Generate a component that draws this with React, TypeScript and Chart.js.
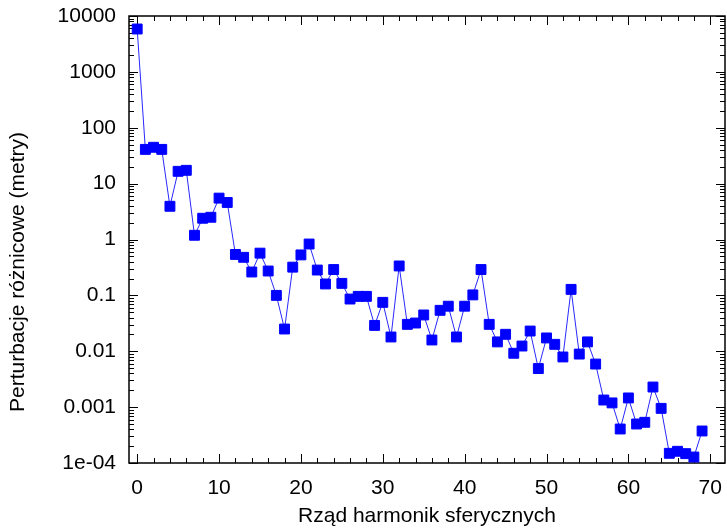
import { useEffect, useRef } from 'react';
import { Chart, registerables } from 'chart.js';

Chart.register(...registerables);

const harmonicOrder: number[] = Array.from({ length: 70 }, (_, i) => i);

const perturbation: number[] = [
  5850, 41, 44.7, 41, 3.93, 16.6, 17.3, 1.19, 2.4, 2.5,
  5.5, 4.6, 0.54, 0.48, 0.262, 0.57, 0.273, 0.1, 0.025, 0.32,
  0.53, 0.83, 0.284, 0.16, 0.29, 0.164, 0.086, 0.096, 0.096, 0.029,
  0.075, 0.018, 0.336, 0.0303, 0.032, 0.0446, 0.0159, 0.054, 0.064, 0.018,
  0.064, 0.102, 0.29, 0.0303, 0.0147, 0.0201, 0.0092, 0.0124, 0.023, 0.0049,
  0.0173, 0.0133, 0.0079, 0.128, 0.0089, 0.0147, 0.0059, 0.00134, 0.00119, 0.000406,
  0.00146, 0.000499, 0.000535, 0.00229, 0.00095, 0.000149, 0.000162, 0.000147, 0.000128, 0.000374,
];

const yTickValues: number[] = [1e4, 1e3, 100, 10, 1, 0.1, 0.01, 0.001, 1e-4];
const yTickLabels: string[] = ['10000', '1000', '100', '10', '1', '0.1', '0.01', '0.001', '1e-04'];
const xTickValues: number[] = [0, 10, 20, 30, 40, 50, 60, 70];
const xMinorStep = 2;
const xRange: number[] = [-1, 71.8];

const xTitle = 'Rząd harmonik sferycznych';
const yTitle = 'Perturbacje różnicowe (metry)';

const FONT = '"Liberation Sans", Arial, sans-serif';
const FONT_SIZE = 21;

const frameTicks = {
  id: 'frameTicks',
  beforeDatasetsDraw(chart: any) {
    const { ctx, chartArea } = chart;
    const { left, right, top, bottom } = chartArea;
    const xs = chart.scales.x;
    const ys = chart.scales.y;
    ctx.save();
    ctx.strokeStyle = '#000';
    ctx.lineWidth = 1;
    ctx.beginPath();
    for (let i = 0; i < yTickValues.length; i++) {
      const v = yTickValues[i];
      const py = Math.round(ys.getPixelForValue(v)) + 0.5;
      ctx.moveTo(left, py); ctx.lineTo(left + 9, py);
      ctx.moveTo(right, py); ctx.lineTo(right - 9, py);
      if (i < yTickValues.length - 1) {
        for (let m = 2; m <= 9; m++) {
          const mv = (v / 10) * m;
          const my = Math.round(ys.getPixelForValue(mv)) + 0.5;
          ctx.moveTo(left, my); ctx.lineTo(left + 5, my);
          ctx.moveTo(right, my); ctx.lineTo(right - 5, my);
        }
      }
    }
    const xmin = xTickValues[0];
    const xmax = xTickValues[xTickValues.length - 1];
    for (let v = xmin; v <= xmax; v += xMinorStep) {
      const px = Math.round(xs.getPixelForValue(v)) + 0.5;
      const major = xTickValues.includes(v);
      const len = major ? 9 : 5;
      ctx.moveTo(px, bottom); ctx.lineTo(px, bottom - len);
      ctx.moveTo(px, top); ctx.lineTo(px, top + len);
    }
    ctx.stroke();
    ctx.lineWidth = 1.5;
    ctx.strokeRect(left, top, right - left, bottom - top);
    ctx.restore();
  },
  afterDraw(chart: any) {
    const { ctx } = chart;
    ctx.save();
    ctx.fillStyle = '#000';
    ctx.font = `${FONT_SIZE}px ${FONT}`;
    ctx.textAlign = 'center';
    ctx.textBaseline = 'middle';
    ctx.translate(18, 272);
    ctx.rotate(-Math.PI / 2);
    ctx.fillText(yTitle, 0, 0);
    ctx.restore();
  },
};

export default function App() {
  const canvasRef = useRef<HTMLCanvasElement | null>(null);

  useEffect(() => {
    document.body.style.margin = '0';
    const canvas = canvasRef.current;
    if (!canvas) return;
    const chart = new Chart(canvas, {
      type: 'line',
      data: {
        datasets: [
          {
            data: harmonicOrder.map((x, i) => ({ x, y: perturbation[i] })),
            borderColor: 'rgb(40,40,255)',
            borderWidth: 1,
            backgroundColor: 'rgb(0,0,255)',
            pointStyle: 'rect',
            pointRadius: 7,
            pointBorderWidth: 1,
            pointBorderColor: 'rgb(0,0,255)',
            pointBackgroundColor: 'rgb(0,0,255)',
            tension: 0,
          },
        ],
      },
      options: {
        animation: false,
        responsive: false,
        maintainAspectRatio: false,
        layout: { autoPadding: false, padding: { top: 16, right: 2, left: 0, bottom: 0 } },
        plugins: { legend: { display: false }, tooltip: { enabled: false } },
        scales: {
          x: {
            type: 'linear',
            min: xRange[0],
            max: xRange[1],
            grid: { display: false, drawTicks: false },
            border: { display: false },
            afterBuildTicks: (scale: any) => {
              scale.ticks = xTickValues.map((v) => ({ value: v }));
            },
            afterFit: (scale: any) => {
              scale.height = 68;
              scale.paddingLeft = 0;
              scale.paddingRight = 0;
            },
            ticks: {
              color: '#000',
              padding: 13,
              maxRotation: 0,
              font: { family: FONT, size: FONT_SIZE },
              callback: (v: any) => String(v),
            },
            title: {
              display: true,
              text: xTitle,
              color: '#000',
              font: { family: FONT, size: FONT_SIZE },
              padding: { top: 0, bottom: 2 },
            },
          },
          y: {
            type: 'logarithmic',
            min: 1e-4,
            max: 1e4,
            grid: { display: false, drawTicks: false },
            border: { display: false },
            afterBuildTicks: (scale: any) => {
              scale.ticks = yTickValues.map((v) => ({ value: v }));
            },
            afterFit: (scale: any) => {
              scale.width = 129;
              scale.paddingTop = 0;
              scale.paddingBottom = 0;
            },
            ticks: {
              color: '#000',
              padding: 13,
              autoSkip: false,
              font: { family: FONT, size: FONT_SIZE },
              callback: (v: any) => {
                const idx = yTickValues.findIndex((t) => Math.abs(Math.log10(t) - Math.log10(v)) < 1e-6);
                return idx >= 0 ? yTickLabels[idx] : '';
              },
            },
          },
        },
      },
      plugins: [frameTicks],
    });
    return () => chart.destroy();
  }, []);

  return (
    <div style={{ position: 'relative', width: 727, height: 531 }}>
      <canvas ref={canvasRef} width={727} height={531} style={{ width: 727, height: 531, display: 'block' }} />
    </div>
  );
}
